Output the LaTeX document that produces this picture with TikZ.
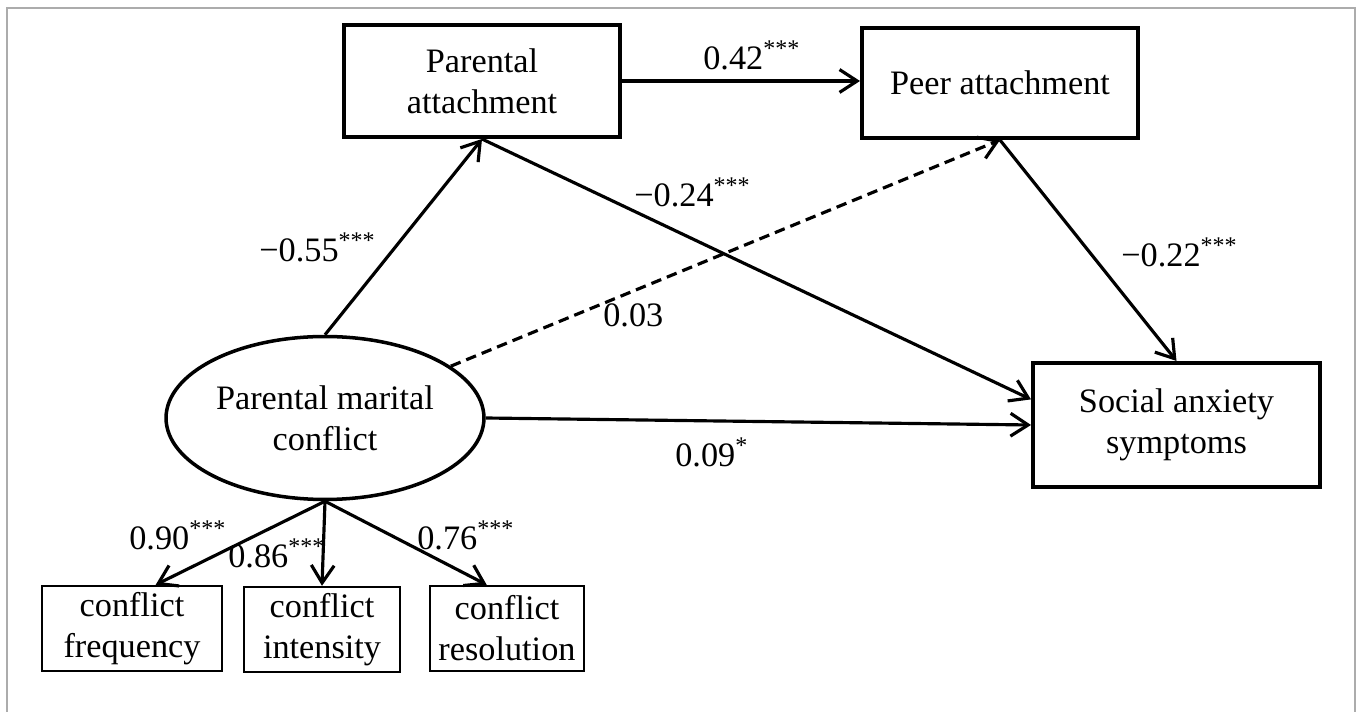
\documentclass[tikz,border=0pt]{standalone}
\usepackage{fontspec}
\setmainfont{Liberation Serif}
\usetikzlibrary{arrows.meta, shapes.geometric, calc, positioning}

\begin{document}
\begin{tikzpicture}[x=0.02cm, y=-0.02cm,
		>={Straight Barb[length=10pt, width=13pt]}
	]

	\tikzset{
		txt/.style={font=\fontsize{19.5}{23.3}\selectfont, align=center},
		var/.style={txt, draw, rectangle, line width=2.3pt, inner sep=0pt},
		ind/.style={txt, draw, rectangle, line width=1.4pt, inner sep=0pt},
		latent/.style={txt, draw, ellipse, line width=2pt, inner sep=0pt},
		effect/.style={->, line width=1.8pt},
		coef/.style={txt, anchor=base west, inner sep=0pt},
	}

	\useasboundingbox (0,0) rectangle (1357,712);
	\draw [gray!65, line width=1.1pt] (7,712) -- (7,8) -- (1355,8) -- (1355,712);

	\node [var, minimum width=5.52cm, minimum height=2.24cm] (pa) at (482,81) {Parental\\attachment};
	\node [var, minimum width=5.52cm, minimum height=2.2cm] (peer) at (1000,83) {Peer attachment};
	\node [var, minimum width=5.74cm, minimum height=2.48cm] (sas) at (1176.5,425) {Social anxiety\\symptoms};
	\node [latent, minimum width=6.36cm, minimum height=3.26cm] (pmc) at (325,418) {Parental marital\\conflict};

	\node [ind, minimum width=3.6cm, minimum height=1.7cm] (freq) at (132,628.5) {conflict\\frequency};
	\node [ind, minimum width=3.12cm, minimum height=1.7cm] (inten) at (322,629.5) {conflict\\intensity};
	\node [ind, minimum width=3.08cm, minimum height=1.7cm] (reso) at (507,628.5) {conflict\\resolution};

	\draw [effect] (pmc.north) -- (pa.south);
	\draw [effect] (pa.south) -- ($(sas.north west)!0.3!(sas.south west)$);
	\draw [effect] (pa.east) -- (pa.east -| peer.west);
	\draw [effect, dash pattern=on 6pt off 3.5pt] (pmc) -- (peer.south);
	\draw [effect] (peer.south) -- (sas.north);
	\draw [effect] (pmc.east) -- (sas.west);

	\draw [effect] (pmc.south) -- ($(freq.north west)!0.63!(freq.north east)$);
	\draw [effect] (pmc.south) -- (inten.north);
	\draw [effect] (pmc.south) -- ($(reso.north west)!0.37!(reso.north east)$);

	\node [coef] (c55) at (259,262) {−0.55\textsuperscript{***}};
	\node [coef] (c24) at (634,207) {−0.24\textsuperscript{***}};
	\node [coef] (c42) at (703,70) {0.42\textsuperscript{***}};
	\node [coef] (c03) at (603,327) {0.03};
	\node [coef] (c22) at (1121,267) {−0.22\textsuperscript{***}};
	\node [coef] (c09) at (675,467) {0.09\textsuperscript{*}};
	\node [coef] (c90) at (129,550) {0.90\textsuperscript{***}};
	\node [coef] (c86) at (228,568) {0.86\textsuperscript{***}};
	\node [coef] (c76) at (417,550) {0.76\textsuperscript{***}};
\end{tikzpicture}
\end{document}
